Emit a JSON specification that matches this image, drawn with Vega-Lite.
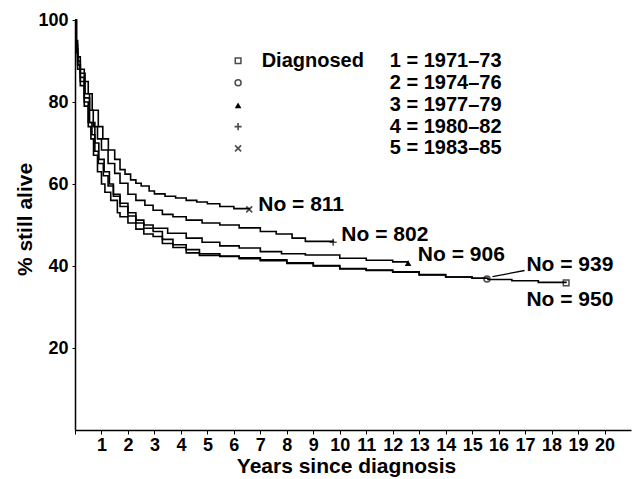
{
  "$schema": "https://vega.github.io/schema/vega-lite/v6.json",
  "width": 556,
  "height": 410,
  "autosize": "none",
  "padding": {"left": 75, "top": 20, "right": 1, "bottom": 49},
  "background": "white",
  "config": {
    "view": {"stroke": null},
    "font": "Liberation Sans",
    "axis": {"grid": false, "domainColor": "black", "domainWidth": 1.5, "tickColor": "black", "labelColor": "black", "titleColor": "black", "labelFont": "Liberation Sans", "titleFont": "Liberation Sans", "labelFontWeight": "bold", "titleFontWeight": "bold", "labelFlush": false, "labelBound": false}
  },
  "datasets": {
    "curves": [
      {"cohort": 5, "t": 0, "s": 100}, {"cohort": 5, "t": 0.05, "s": 95}, {"cohort": 5, "t": 0.1, "s": 91}, {"cohort": 5, "t": 0.2, "s": 88}, {"cohort": 5, "t": 0.35, "s": 85}, {"cohort": 5, "t": 0.5, "s": 82}, {"cohort": 5, "t": 0.65, "s": 78}, {"cohort": 5, "t": 0.88, "s": 74}, {"cohort": 5, "t": 1.05, "s": 71}, {"cohort": 5, "t": 1.26, "s": 68.3}, {"cohort": 5, "t": 1.5, "s": 66}, {"cohort": 5, "t": 1.7, "s": 63.5}, {"cohort": 5, "t": 1.89, "s": 62.4}, {"cohort": 5, "t": 2.1, "s": 61}, {"cohort": 5, "t": 2.3, "s": 60.2}, {"cohort": 5, "t": 2.5, "s": 59.5}, {"cohort": 5, "t": 2.8, "s": 58.3}, {"cohort": 5, "t": 3.0, "s": 57.6}, {"cohort": 5, "t": 3.4, "s": 57}, {"cohort": 5, "t": 3.8, "s": 56.6}, {"cohort": 5, "t": 4.2, "s": 56}, {"cohort": 5, "t": 4.6, "s": 55.6}, {"cohort": 5, "t": 5.0, "s": 55.2}, {"cohort": 5, "t": 5.47, "s": 54.5}, {"cohort": 5, "t": 6.0, "s": 54}, {"cohort": 5, "t": 6.58, "s": 53.8},
      {"cohort": 4, "t": 0, "s": 100}, {"cohort": 4, "t": 0.05, "s": 94}, {"cohort": 4, "t": 0.1, "s": 90}, {"cohort": 4, "t": 0.2, "s": 87}, {"cohort": 4, "t": 0.38, "s": 82}, {"cohort": 4, "t": 0.55, "s": 78}, {"cohort": 4, "t": 0.69, "s": 74}, {"cohort": 4, "t": 0.85, "s": 71}, {"cohort": 4, "t": 1.0, "s": 68.3}, {"cohort": 4, "t": 1.25, "s": 65}, {"cohort": 4, "t": 1.5, "s": 62.6}, {"cohort": 4, "t": 1.7, "s": 60.2}, {"cohort": 4, "t": 2.0, "s": 57.5}, {"cohort": 4, "t": 2.3, "s": 56}, {"cohort": 4, "t": 2.64, "s": 54.8}, {"cohort": 4, "t": 2.95, "s": 53.6}, {"cohort": 4, "t": 3.3, "s": 52.6}, {"cohort": 4, "t": 3.7, "s": 52}, {"cohort": 4, "t": 4.2, "s": 51.2}, {"cohort": 4, "t": 4.8, "s": 50.5}, {"cohort": 4, "t": 5.47, "s": 50}, {"cohort": 4, "t": 6.2, "s": 49.3}, {"cohort": 4, "t": 7.0, "s": 48.4}, {"cohort": 4, "t": 7.6, "s": 47.8}, {"cohort": 4, "t": 8.2, "s": 46.8}, {"cohort": 4, "t": 8.7, "s": 46}, {"cohort": 4, "t": 9.75, "s": 45.8},
      {"cohort": 3, "t": 0, "s": 100}, {"cohort": 3, "t": 0.05, "s": 93}, {"cohort": 3, "t": 0.1, "s": 89}, {"cohort": 3, "t": 0.2, "s": 86}, {"cohort": 3, "t": 0.35, "s": 81}, {"cohort": 3, "t": 0.55, "s": 75}, {"cohort": 3, "t": 0.75, "s": 70}, {"cohort": 3, "t": 0.9, "s": 66}, {"cohort": 3, "t": 1.1, "s": 63}, {"cohort": 3, "t": 1.3, "s": 60}, {"cohort": 3, "t": 1.45, "s": 57.5}, {"cohort": 3, "t": 1.7, "s": 55.3}, {"cohort": 3, "t": 2.0, "s": 53}, {"cohort": 3, "t": 2.3, "s": 51.2}, {"cohort": 3, "t": 2.6, "s": 50}, {"cohort": 3, "t": 2.95, "s": 49.2}, {"cohort": 3, "t": 3.5, "s": 48}, {"cohort": 3, "t": 4.2, "s": 46.8}, {"cohort": 3, "t": 4.8, "s": 45.8}, {"cohort": 3, "t": 5.47, "s": 44.9}, {"cohort": 3, "t": 6.2, "s": 44.4}, {"cohort": 3, "t": 7.0, "s": 43.5}, {"cohort": 3, "t": 7.8, "s": 43}, {"cohort": 3, "t": 8.7, "s": 42.7}, {"cohort": 3, "t": 10, "s": 41.9}, {"cohort": 3, "t": 11, "s": 41.4}, {"cohort": 3, "t": 12, "s": 41}, {"cohort": 3, "t": 12.58, "s": 40.7},
      {"cohort": 2, "t": 0, "s": 100}, {"cohort": 2, "t": 0.05, "s": 92}, {"cohort": 2, "t": 0.1, "s": 88}, {"cohort": 2, "t": 0.2, "s": 84}, {"cohort": 2, "t": 0.35, "s": 79}, {"cohort": 2, "t": 0.5, "s": 74}, {"cohort": 2, "t": 0.6, "s": 71}, {"cohort": 2, "t": 0.7, "s": 67}, {"cohort": 2, "t": 0.85, "s": 63}, {"cohort": 2, "t": 1.0, "s": 60}, {"cohort": 2, "t": 1.13, "s": 58}, {"cohort": 2, "t": 1.35, "s": 56}, {"cohort": 2, "t": 1.6, "s": 53}, {"cohort": 2, "t": 1.7, "s": 52}, {"cohort": 2, "t": 2.0, "s": 50.5}, {"cohort": 2, "t": 2.3, "s": 49}, {"cohort": 2, "t": 2.6, "s": 47.8}, {"cohort": 2, "t": 2.95, "s": 47.2}, {"cohort": 2, "t": 3.3, "s": 45.5}, {"cohort": 2, "t": 3.7, "s": 44.5}, {"cohort": 2, "t": 4.2, "s": 43.2}, {"cohort": 2, "t": 4.7, "s": 42.6}, {"cohort": 2, "t": 5.47, "s": 42.3}, {"cohort": 2, "t": 6.2, "s": 41.8}, {"cohort": 2, "t": 7, "s": 41.3}, {"cohort": 2, "t": 8, "s": 40.6}, {"cohort": 2, "t": 9, "s": 40}, {"cohort": 2, "t": 10, "s": 39.3}, {"cohort": 2, "t": 11, "s": 38.9}, {"cohort": 2, "t": 12, "s": 38.5}, {"cohort": 2, "t": 13, "s": 37.8}, {"cohort": 2, "t": 14, "s": 37.3}, {"cohort": 2, "t": 15, "s": 37}, {"cohort": 2, "t": 15.56, "s": 36.8},
      {"cohort": 1, "t": 0, "s": 100}, {"cohort": 1, "t": 0.05, "s": 93}, {"cohort": 1, "t": 0.1, "s": 89}, {"cohort": 1, "t": 0.2, "s": 85}, {"cohort": 1, "t": 0.35, "s": 80}, {"cohort": 1, "t": 0.5, "s": 75}, {"cohort": 1, "t": 0.64, "s": 72}, {"cohort": 1, "t": 0.75, "s": 68}, {"cohort": 1, "t": 0.88, "s": 65}, {"cohort": 1, "t": 1.07, "s": 62}, {"cohort": 1, "t": 1.25, "s": 59.5}, {"cohort": 1, "t": 1.45, "s": 57}, {"cohort": 1, "t": 1.7, "s": 54.5}, {"cohort": 1, "t": 2.0, "s": 52.2}, {"cohort": 1, "t": 2.3, "s": 50.5}, {"cohort": 1, "t": 2.6, "s": 49.2}, {"cohort": 1, "t": 2.95, "s": 48.4}, {"cohort": 1, "t": 3.3, "s": 46.5}, {"cohort": 1, "t": 3.7, "s": 45.2}, {"cohort": 1, "t": 4.2, "s": 44}, {"cohort": 1, "t": 4.7, "s": 43}, {"cohort": 1, "t": 5.47, "s": 42.4}, {"cohort": 1, "t": 6.2, "s": 42}, {"cohort": 1, "t": 7, "s": 41.5}, {"cohort": 1, "t": 8, "s": 40.8}, {"cohort": 1, "t": 9, "s": 40.1}, {"cohort": 1, "t": 10, "s": 39.4}, {"cohort": 1, "t": 11, "s": 39}, {"cohort": 1, "t": 12, "s": 38.6}, {"cohort": 1, "t": 13, "s": 37.9}, {"cohort": 1, "t": 14, "s": 37.3}, {"cohort": 1, "t": 15, "s": 37}, {"cohort": 1, "t": 15.6, "s": 36.7}, {"cohort": 1, "t": 16.5, "s": 36.4}, {"cohort": 1, "t": 17.5, "s": 36}, {"cohort": 1, "t": 18.55, "s": 35.9}
    ],
    "markers": [
      {"m": "square", "t": 18.55, "s": 35.9}, {"m": "square", "t": 6.16, "s": 90.07},
      {"m": "circle", "t": 15.56, "s": 36.8}, {"m": "circle", "t": 6.16, "s": 84.7},
      {"m": "triangle", "t": 12.58, "s": 40.7}, {"m": "triangle", "t": 6.16, "s": 79.2},
      {"m": "plus", "t": 9.75, "s": 45.8}, {"m": "plus", "t": 6.16, "s": 74},
      {"m": "x", "t": 6.58, "s": 53.8}, {"m": "x", "t": 6.16, "s": 68.7}
    ],
    "legendText": [
      {"t": 7.05, "s": 90.07, "label": "Diagnosed"},
      {"t": 11.89, "s": 90.07, "label": "1 = 1971–73"},
      {"t": 11.89, "s": 84.7, "label": "2 = 1974–76"},
      {"t": 11.89, "s": 79.2, "label": "3 = 1977–79"},
      {"t": 11.89, "s": 74, "label": "4 = 1980–82"},
      {"t": 11.89, "s": 68.7, "label": "5 = 1983–85"}
    ],
    "counts": [
      {"t": 6.92, "s": 54.9, "label": "No = 811"},
      {"t": 10.06, "s": 47.6, "label": "No = 802"},
      {"t": 12.95, "s": 42.7, "label": "No = 906"},
      {"t": 17.05, "s": 40.2, "label": "No = 939"},
      {"t": 17.05, "s": 31.7, "label": "No = 950"}
    ],
    "leader": [
      {"t": 15.77, "s": 37.4, "t2": 16.98, "s2": 38.9}
    ]
  },
  "layer": [
    {
      "data": {"name": "curves"},
      "mark": {"type": "line", "interpolate": "step-after", "color": "black", "strokeWidth": 1.6},
      "encoding": {
        "x": {"field": "t", "type": "quantitative", "scale": {"domain": [0, 21], "nice": false, "zero": false},
          "axis": {"values": [0,1,2,3,4,5,6,7,8,9,10,11,12,13,14,15,16,17,18,19,20], "tickCount": 21, "labelOverlap": false, "labelExpr": "datum.value == 0 ? '' : datum.label", "labelFontSize": 18, "tickSize": 4, "labelPadding": 2, "title": "Years since diagnosis", "titleFontSize": 21, "titleX": 271, "titleY": 42, "titleBaseline": "alphabetic", "titleAnchor": null}},
        "y": {"field": "s", "type": "quantitative", "scale": {"domain": [0, 100], "nice": false},
          "axis": {"values": [20, 40, 60, 80, 100], "labelOverlap": false, "labelFontSize": 18, "tickSize": 3, "labelPadding": 4, "title": "% still alive", "titleFontSize": 21, "titleX": -50, "titleY": 199, "titleBaseline": "middle", "titleAngle": -90, "titleAlign": "center", "titleAnchor": null}},
        "detail": {"field": "cohort", "type": "nominal"},
        "order": {"field": "t", "type": "quantitative"}
      }
    },
    {
      "data": {"name": "markers"},
      "transform": [{"filter": "datum.m == 'square'"}],
      "mark": {"type": "point", "shape": "square", "filled": false, "color": "black", "strokeWidth": 1.5, "size": 32},
      "encoding": {"x": {"field": "t", "type": "quantitative"}, "y": {"field": "s", "type": "quantitative"}}
    },
    {
      "data": {"name": "markers"},
      "transform": [{"filter": "datum.m == 'circle'"}],
      "mark": {"type": "point", "shape": "circle", "filled": false, "color": "black", "strokeWidth": 1.5, "size": 36},
      "encoding": {"x": {"field": "t", "type": "quantitative"}, "y": {"field": "s", "type": "quantitative"}}
    },
    {
      "data": {"name": "markers"},
      "transform": [{"filter": "datum.m == 'triangle'"}],
      "mark": {"type": "point", "shape": "triangle-up", "filled": true, "color": "black", "opacity": 1, "size": 44},
      "encoding": {"x": {"field": "t", "type": "quantitative"}, "y": {"field": "s", "type": "quantitative"}}
    },
    {
      "data": {"name": "markers"},
      "transform": [{"filter": "datum.m == 'plus'"}],
      "mark": {"type": "point", "shape": "M0,-1L0,1M-1,0L1,0", "filled": false, "color": "black", "strokeWidth": 1.6, "size": 50},
      "encoding": {"x": {"field": "t", "type": "quantitative"}, "y": {"field": "s", "type": "quantitative"}}
    },
    {
      "data": {"name": "markers"},
      "transform": [{"filter": "datum.m == 'x'"}],
      "mark": {"type": "point", "shape": "M-1,-1L1,1M-1,1L1,-1", "filled": false, "color": "black", "strokeWidth": 1.6, "size": 36},
      "encoding": {"x": {"field": "t", "type": "quantitative"}, "y": {"field": "s", "type": "quantitative"}}
    },
    {
      "data": {"name": "leader"},
      "mark": {"type": "rule", "color": "black", "strokeWidth": 1.3},
      "encoding": {"x": {"field": "t", "type": "quantitative"}, "y": {"field": "s", "type": "quantitative"}, "x2": {"field": "t2"}, "y2": {"field": "s2"}}
    },
    {
      "data": {"name": "legendText"},
      "mark": {"type": "text", "align": "left", "baseline": "middle", "fontSize": 20, "fontWeight": "bold", "font": "Liberation Sans", "color": "black"},
      "encoding": {"x": {"field": "t", "type": "quantitative"}, "y": {"field": "s", "type": "quantitative"}, "text": {"field": "label"}}
    },
    {
      "data": {"name": "counts"},
      "mark": {"type": "text", "align": "left", "baseline": "middle", "fontSize": 21, "fontWeight": "bold", "font": "Liberation Sans", "color": "black"},
      "encoding": {"x": {"field": "t", "type": "quantitative"}, "y": {"field": "s", "type": "quantitative"}, "text": {"field": "label"}}
    }
  ]
}
